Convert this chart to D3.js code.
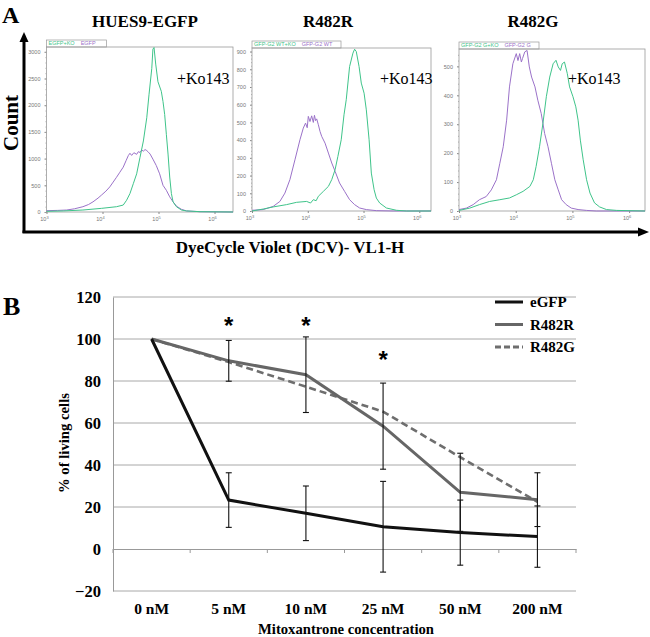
<!DOCTYPE html>
<html><head><meta charset="utf-8">
<script src="https://cdn.jsdelivr.net/npm/d3@7"></script>
<style>body{margin:0;background:#fff}svg{display:block}</style>
</head><body><svg id="c" width="650" height="637"></svg>
<script>
// ---------- Panel A data: [log10(DCV-VL1-H), count] ----------
const huesCtl = [[3.00,25],[3.20,30],[3.36,37],[3.50,60],[3.65,99],[3.75,140],[3.83,190],[3.92,260],[3.98,315],[4.06,390],[4.13,470],[4.19,560],[4.25,650],[4.31,745],[4.37,840],[4.42,960],[4.46,1055],[4.49,1100],[4.52,1060],[4.56,1110],[4.61,1080],[4.64,1130],[4.67,1115],[4.70,1160],[4.73,1140],[4.76,1170],[4.79,1150],[4.82,1120],[4.85,1085],[4.90,990],[4.96,870],[5.02,715],[5.08,500],[5.14,407],[5.20,284],[5.26,190],[5.32,110],[5.41,50],[5.50,20],[5.74,6],[6.33,0]];
const huesKo = [[3.00,12],[3.30,20],[3.65,37],[3.98,68],[4.25,99],[4.37,130],[4.43,220],[4.49,345],[4.55,530],[4.61,715],[4.67,1025],[4.73,1330],[4.79,1765],[4.83,2195],[4.88,2690],[4.90,3050],[4.92,3080],[4.95,2770],[4.99,2440],[5.05,2260],[5.08,2070],[5.11,1825],[5.14,1455],[5.17,1085],[5.20,655],[5.23,345],[5.26,190],[5.32,99],[5.41,37],[5.50,20],[5.74,6],[6.33,0]];
const wtCtl = [[3.00,4],[3.20,8],[3.38,26],[3.50,54],[3.59,101],[3.68,177],[3.77,289],[3.86,402],[3.92,468],[3.96,496],[3.99,470],[4.01,534],[4.04,505],[4.07,537],[4.10,500],[4.12,540],[4.14,510],[4.16,520],[4.19,487],[4.22,449],[4.25,421],[4.31,383],[4.37,327],[4.43,271],[4.49,224],[4.57,158],[4.66,111],[4.75,64],[4.84,36],[4.93,17],[5.05,8],[5.23,2],[5.53,0],[6.21,0]];
const wtKo = [[3.00,0],[3.20,11],[3.38,23],[3.62,36],[3.80,49],[3.98,54],[4.05,45],[4.10,64],[4.15,58],[4.19,83],[4.28,111],[4.37,139],[4.43,177],[4.49,233],[4.54,308],[4.60,402],[4.65,543],[4.69,628],[4.75,815],[4.81,891],[4.84,913],[4.87,900],[4.92,815],[4.96,722],[5.01,665],[5.05,571],[5.10,402],[5.14,214],[5.19,120],[5.23,73],[5.29,45],[5.41,17],[5.59,4],[5.77,0],[6.21,0]];
const gCtl = [[3.00,5],[3.13,10],[3.25,22],[3.36,39],[3.48,50],[3.57,73],[3.66,108],[3.72,165],[3.78,222],[3.84,314],[3.89,429],[3.95,509],[4.01,544],[4.04,520],[4.07,544],[4.10,515],[4.12,527],[4.16,550],[4.20,555],[4.24,498],[4.28,463],[4.34,429],[4.39,383],[4.45,337],[4.51,268],[4.57,222],[4.63,165],[4.69,108],[4.75,73],[4.81,39],[4.89,22],[4.98,10],[5.10,5],[5.25,2],[5.42,0],[6.28,0]];
const gKo = [[3.00,2],[3.19,10],[3.36,22],[3.54,33],[3.72,39],[3.89,45],[4.01,56],[4.13,68],[4.25,85],[4.31,108],[4.36,154],[4.42,222],[4.48,303],[4.54,395],[4.60,463],[4.66,509],[4.71,521],[4.75,498],[4.79,486],[4.82,509],[4.86,515],[4.91,475],[4.95,429],[5.01,395],[5.06,360],[5.10,314],[5.14,245],[5.19,177],[5.25,108],[5.31,62],[5.39,28],[5.48,14],[5.60,5],[5.78,2],[6.28,0]];

const panelTitles = ["HUES9-EGFP", "R482R", "R482G"];
const legendKo = ["EGFP+KO", "GFP-G2 WT+KO", "GFP-G2 G+KO"];
const legendCtl = ["EGFP", "GFP-G2 WT", "GFP-G2 G"];
const countMax = [3090, 920, 560];
const countStep = [500, 100, 100];
const decadeTicks = [3, 4, 5, 6];

// ---------- Panel B data ----------
const concentrations = ["0 nM", "5 nM", "10 nM", "25 nM", "50 nM", "200 nM"];
const egfp = [100, 23.3, 17, 10.6, 7.8, 5.9];
const egfpErr = [0, 13, 13, 21.6, 15.5, 14.6];
const r482r = [100, 89.6, 83, 58.5, 27, 23.5];
const r482rErr = [0, 9.7, 18, 20.5, 18.6, 12.8];
const r482g = [100, 89, 77.3, 65.4, 43.7, 22.5];
const yTicksB = [-20, 0, 20, 40, 60, 80, 100, 120];
const starCats = ["5 nM", "10 nM", "25 nM"];
const starLevel = [108.6, 108.6, 92.4];

const svg = d3.select("#c");
const serif = "'Liberation Serif','Times New Roman',serif";
const sans = "'Liberation Sans',Arial,sans-serif";
const GREEN = "#3fc48a", PURPLE = "#9b72c9";

// ---------- Panel A ----------
svg.append("text").attr("x", 2).attr("y", 23).attr("font-family", serif).attr("font-weight", "bold")
  .attr("font-size", 24).text("A");

const boxes = [
  {l: 46.5, r: 233, t: 47, b: 212, xmax: 6.33, lw: 60, data: [huesCtl, huesKo], tx: 145, kx: 177},
  {l: 252, r: 431, t: 48, b: 211, xmax: 6.21, lw: 89, data: [wtCtl, wtKo], tx: 328, kx: 380},
  {l: 459, r: 645, t: 49, b: 211, xmax: 6.28, lw: 80, data: [gCtl, gKo], tx: 533, kx: 568}
];

boxes.forEach((B, i) => {
  const x = d3.scaleLinear().domain([3, B.xmax]).range([B.l, B.r]);
  const y = d3.scaleLinear().domain([0, countMax[i]]).range([B.b, B.t]);
  const g = svg.append("g");
  svg.append("text").attr("x", B.tx).attr("y", 27).attr("text-anchor", "middle")
    .attr("font-family", serif).attr("font-weight", "bold").attr("font-size", 17).text(panelTitles[i]);
  g.append("rect").attr("x", B.l).attr("y", B.t - 7).attr("width", B.lw).attr("height", 7)
    .attr("fill", "#fff").attr("stroke", "#999").attr("stroke-width", 0.7);
  const lt = g.append("text").attr("x", B.l + 2).attr("y", B.t - 1.8).attr("font-family", sans).attr("font-size", 5.5);
  lt.append("tspan").attr("fill", GREEN).text(legendKo[i]);
  lt.append("tspan").attr("fill", PURPLE).attr("dx", 6).text(legendCtl[i]);
  g.append("rect").attr("x", B.l).attr("y", B.t).attr("width", B.r - B.l).attr("height", B.b - B.t)
    .attr("fill", "none").attr("stroke", "#9a9a9a").attr("stroke-width", 0.8);
  const yt = d3.range(0, countMax[i], countStep[i]);
  const ya = g.append("g").attr("transform", `translate(${B.l},0)`)
    .call(d3.axisLeft(y).tickValues(yt).tickSize(2).tickFormat(d3.format("d")));
  ya.select(".domain").remove();
  ya.selectAll("line").attr("stroke", "#888");
  ya.selectAll("text").attr("font-family", sans).attr("font-size", 5.5).attr("fill", "#777").attr("dx", -1);
  const ym = g.append("g").attr("transform", `translate(${B.l},0)`)
    .call(d3.axisLeft(y).tickValues(d3.range(0, countMax[i], countStep[i] / 5)).tickSize(1).tickFormat(""));
  ym.select(".domain").remove();
  ym.selectAll("line").attr("stroke", "#aaa");
  const xa = g.append("g").attr("transform", `translate(0,${B.b})`)
    .call(d3.axisBottom(x).tickValues(decadeTicks).tickSize(2).tickFormat(""));
  xa.select(".domain").remove();
  xa.selectAll("line").attr("stroke", "#888");
  decadeTicks.forEach(d => {
    const t = g.append("text").attr("x", x(d) - 2).attr("y", B.b + 9).attr("font-family", sans)
      .attr("font-size", 5.5).attr("fill", "#777").attr("text-anchor", "middle").text("10");
    t.append("tspan").attr("font-size", 4).attr("dy", -2.5).text(d);
  });
  const line = d3.line().x(d => x(d[0])).y(d => y(d[1]));
  g.append("path").datum(B.data[0]).attr("d", line).attr("fill", "none").attr("stroke", PURPLE).attr("stroke-width", 1);
  g.append("path").datum(B.data[1]).attr("d", line).attr("fill", "none").attr("stroke", GREEN).attr("stroke-width", 1);
  svg.append("text").attr("x", B.kx).attr("y", 84).attr("font-family", serif).attr("font-size", 16).text("+Ko143");
});

// Big arrows
svg.append("line").attr("x1", 24).attr("y1", 233).attr("x2", 24).attr("y2", 40).attr("stroke", "#000").attr("stroke-width", 3);
svg.append("path").attr("d", "M24,32 L19.5,42 L28.5,42 Z").attr("fill", "#000");
svg.append("line").attr("x1", 22.5).attr("y1", 232).attr("x2", 640).attr("y2", 232).attr("stroke", "#000").attr("stroke-width", 3);
svg.append("path").attr("d", "M649,232 L638,227.5 L638,236.5 Z").attr("fill", "#000");
svg.append("text").attr("transform", "translate(18,123) rotate(-90)").attr("text-anchor", "middle")
  .attr("font-family", serif).attr("font-weight", "bold").attr("font-size", 21).text("Count");
svg.append("text").attr("x", 290).attr("y", 253).attr("text-anchor", "middle")
  .attr("font-family", serif).attr("font-weight", "bold").attr("font-size", 17).text("DyeCycle Violet (DCV)- VL1-H");

// ---------- Panel B ----------
svg.append("text").attr("x", 3).attr("y", 315).attr("font-family", serif).attr("font-weight", "bold")
  .attr("font-size", 26).text("B");

const xb = d3.scaleBand().domain(concentrations).range([113, 576]);
const yb = d3.scaleLinear().domain([-20, 120]).range([591, 297]);
const cx = c => xb(c) + xb.bandwidth() / 2;
const gb = svg.append("g");

gb.selectAll(".grid").data(yTicksB.filter(v => v !== 0)).join("line")
  .attr("x1", 113).attr("x2", 576).attr("y1", d => yb(d)).attr("y2", d => yb(d))
  .attr("stroke", "#a8a8a8").attr("stroke-width", 1);
const yab = gb.append("g").attr("transform", "translate(113,0)")
  .call(d3.axisLeft(yb).tickValues(yTicksB).tickSize(0).tickPadding(12));
yab.select(".domain").attr("stroke", "#999");
yab.selectAll("text").attr("font-family", serif).attr("font-weight", "bold").attr("font-size", 16.5).attr("fill", "#000");
const xab = gb.append("g").attr("transform", `translate(0,${yb(0)})`)
  .call(d3.axisBottom(xb).tickSize(0).tickFormat(""));
xab.select(".domain").attr("stroke", "#999");
gb.selectAll(".xt").data(concentrations.concat(["end"])).join("line")
  .attr("x1", (d, i) => 113 + i * xb.step()).attr("x2", (d, i) => 113 + i * xb.step())
  .attr("y1", yb(0)).attr("y2", yb(0) + 4).attr("stroke", "#999");
gb.selectAll(".xl").data(concentrations).join("text")
  .attr("x", d => cx(d)).attr("y", 614).attr("text-anchor", "middle")
  .attr("font-family", serif).attr("font-weight", "bold").attr("font-size", 15.5).text(d => d);

svg.append("text").attr("transform", "translate(69,443) rotate(-90)").attr("text-anchor", "middle")
  .attr("font-family", serif).attr("font-weight", "bold").attr("font-size", 14)
  .attr("textLength", 100).attr("lengthAdjust", "spacingAndGlyphs").text("% of living cells");
svg.append("text").attr("x", 346).attr("y", 634).attr("text-anchor", "middle")
  .attr("font-family", serif).attr("font-weight", "bold").attr("font-size", 14.5)
  .attr("textLength", 176).attr("lengthAdjust", "spacingAndGlyphs").text("Mitoxantrone concentration");

const lineB = d3.line().x((d, i) => cx(concentrations[i])).y(d => yb(d));
gb.append("path").datum(r482g).attr("d", lineB).attr("fill", "none").attr("stroke", "#6e6e6e")
  .attr("stroke-width", 2.6).attr("stroke-dasharray", "7,4");
gb.append("path").datum(r482r).attr("d", lineB).attr("fill", "none").attr("stroke", "#666")
  .attr("stroke-width", 3);
gb.append("path").datum(egfp).attr("d", lineB).attr("fill", "none").attr("stroke", "#111")
  .attr("stroke-width", 3);

function errBars(vals, errs) {
  vals.forEach((v, i) => {
    if (!errs[i]) return;
    const x0 = cx(concentrations[i]);
    const gg = gb.append("g").attr("stroke", "#111").attr("stroke-width", 1.1);
    gg.append("line").attr("x1", x0).attr("x2", x0).attr("y1", yb(v - errs[i])).attr("y2", yb(v + errs[i]));
    [v - errs[i], v + errs[i]].forEach(e => gg.append("line").attr("x1", x0 - 3).attr("x2", x0 + 3)
      .attr("y1", yb(e)).attr("y2", yb(e)));
  });
}
errBars(egfp, egfpErr);
errBars(r482r, r482rErr);

gb.selectAll(".star").data(starCats).join("text")
  .attr("x", d => cx(d)).attr("y", (d, i) => yb(starLevel[i]) + 13).attr("text-anchor", "middle")
  .attr("font-family", sans).attr("font-weight", "bold").attr("font-size", 24).text("*");

const legItems = [["eGFP", "#111", null], ["R482R", "#666", null], ["R482G", "#6e6e6e", "6,3"]];
legItems.forEach((d, i) => {
  const ly = 302 + i * 22.5;
  gb.append("line").attr("x1", 495).attr("x2", 523).attr("y1", ly).attr("y2", ly)
    .attr("stroke", d[1]).attr("stroke-width", 3).attr("stroke-dasharray", d[2]);
  gb.append("text").attr("x", 530).attr("y", ly + 5).attr("font-family", serif).attr("font-weight", "bold")
    .attr("font-size", 15).text(d[0]);
});
</script></body></html>
